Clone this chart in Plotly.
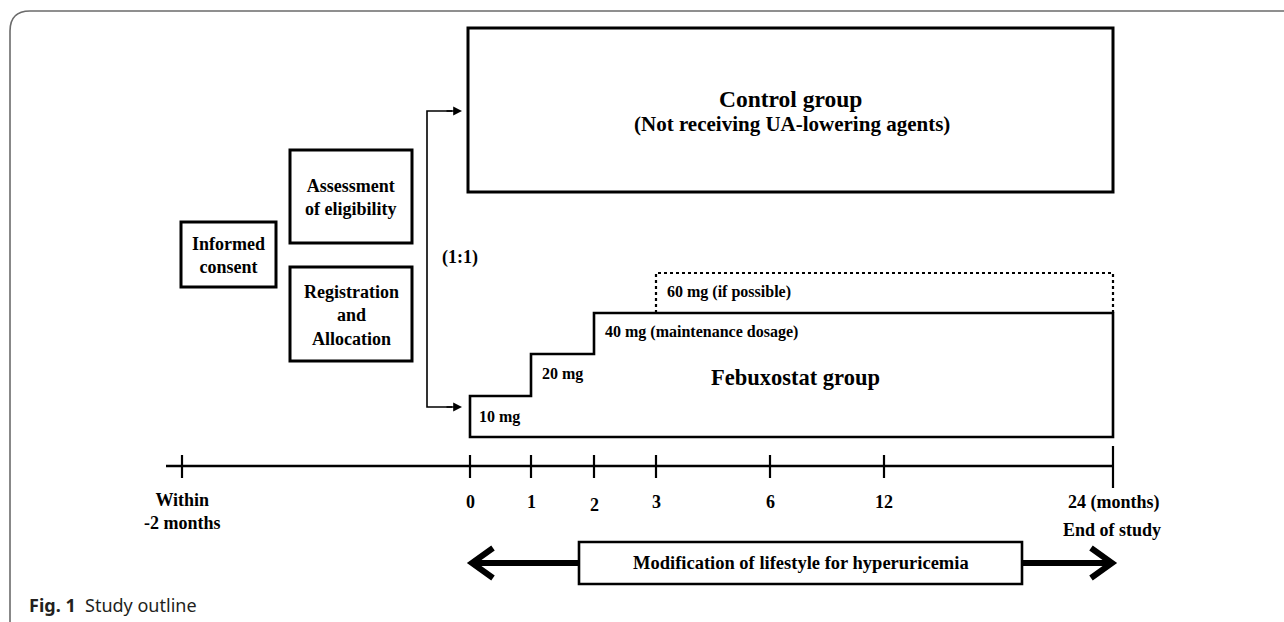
import plotly.graph_objects as go

# ---------------- content ----------------
pre_boxes = ["Informed<br>consent", "Assessment<br>of eligibility", "Registration<br>and<br>Allocation"]
control_title = "Control group"
control_sub = "(Not receiving UA-lowering agents)"
febux_title = "Febuxostat group"
dose_labels = ["10 mg", "20 mg", "40 mg (maintenance dosage)", "60 mg (if possible)"]
ratio_label = "(1:1)"
timeline_labels = ["Within<br>-2 months", "0", "1", "2", "3", "6", "12", "24 (months)"]
end_label = "End of study"
lifestyle_label = "Modification of lifestyle for hyperuricemia"

# ---------------- schematic layout (pixel coordinates) ----------------
W, H = 1284, 622
tick_pos = [182, 470, 531, 594, 656, 770, 884, 1113]
step_y = [396, 354, 313, 273]        # top of each dose step
feb_bottom = 437
line_y = 466

SERIF = "Liberation Serif"
shapes = []
ann = []

def rect(x0, y0, x1, y1, w=3, dash="solid"):
    shapes.append(dict(type="rect", x0=x0, y0=y0, x1=x1, y1=y1, xref="x", yref="y",
                       line=dict(color="black", width=w, dash=dash)))

def path(d, w=2, dash="solid", color="black"):
    shapes.append(dict(type="path", path=d, xref="x", yref="y",
                       line=dict(color=color, width=w, dash=dash)))

def text(x, y, s, size, xanchor="center", bold=True, family=SERIF, color="black"):
    ann.append(dict(x=x, y=y, xref="x", yref="y", text=("<b>%s</b>" % s) if bold else s,
                    showarrow=False, xanchor=xanchor, yanchor="middle",
                    font=dict(family=family, size=size, color=color)))

# outer frame (open at right and bottom)
path("M 10,622 L 10,31 Q 10,11 30,11 L 1284,11", w=1.6, color="#6b6b6b")

# pre-randomisation boxes
rect(181, 222, 276, 287)
text(228.5, 255, pre_boxes[0], 18)
rect(290, 150, 412, 243)
text(351, 197, pre_boxes[1], 18)
rect(290, 267, 412, 361)
text(351, 315, pre_boxes[2], 18)

# randomisation bracket and arrows
path("M 452,111 L 427,111 L 427,407 L 452,407", w=1.6)
for yy in (111, 407):
    ann.append(dict(x=462, y=yy, ax=445, ay=yy, xref="x", yref="y", axref="x", ayref="y",
                    text="", showarrow=True, arrowhead=2, arrowsize=1.1, arrowwidth=1.6,
                    arrowcolor="black"))
text(460, 257, ratio_label, 18)

# control group box
rect(468, 28, 1113, 192)
text(790.5, 99, control_title, 23.5)
text(791.5, 124, control_sub, 21)

# febuxostat staircase
d = ("M %d,%d L %d,%d L %d,%d L %d,%d L %d,%d L %d,%d L %d,%d L %d,%d Z" % (
    tick_pos[1], feb_bottom, tick_pos[1], step_y[0], tick_pos[2], step_y[0],
    tick_pos[2], step_y[1], tick_pos[3], step_y[1], tick_pos[3], step_y[2],
    tick_pos[7], step_y[2], tick_pos[7], feb_bottom))
path(d, w=2.6)
path("M %d,%d L %d,%d L %d,%d L %d,%d" % (tick_pos[4], step_y[2], tick_pos[4], step_y[3],
                                          tick_pos[7], step_y[3], tick_pos[7], step_y[2]),
     w=2.2, dash="dot")
text(tick_pos[1] + 7, 417, dose_labels[0], 16, xanchor="left")
text(tick_pos[2] + 9, 374, dose_labels[1], 16, xanchor="left")
text(tick_pos[3] + 9, 332, dose_labels[2], 16, xanchor="left")
text(tick_pos[4] + 9, 292, dose_labels[3], 16, xanchor="left")
text(795, 377, febux_title, 22.5)

# timeline
path("M 166,%d L %d,%d" % (line_y, tick_pos[7], line_y), w=2.4)
for i, xp in enumerate(tick_pos):
    top, bot = (446, 488) if i == len(tick_pos) - 1 else (455, 478)
    path("M %d,%d L %d,%d" % (xp, top, xp, bot), w=2.2)
for i, (xp, lab) in enumerate(zip(tick_pos, timeline_labels)):
    if i == 0:
        text(xp, 511, lab, 18)
    elif i == len(tick_pos) - 1:
        text(1066, 502, lab, 18, xanchor="left")
    else:
        text(xp, 505 if lab == "2" else 502, lab, 18)
text(1112, 530, end_label, 18)

# lifestyle arrow
path("M 474,563 L 579,563", w=6)
path("M 1022,563 L 1109,563", w=6)
path("M 493,548 L 472,563 L 493,578", w=6)
path("M 1091,548 L 1112,563 L 1091,578", w=6)
rect(579, 542, 1022, 584, w=2.6)
text(800.5, 563, lifestyle_label, 18.5)

# caption
ann.append(dict(x=27, y=605, xref="x", yref="y", showarrow=False, xanchor="left", yanchor="middle",
                text="<b>Fig. 1</b>  Study outline",
                font=dict(family="Noto Sans", size=18, color="#231f20")))

fig = go.Figure()
fig.update_layout(
    width=W, height=H, margin=dict(l=0, r=0, t=0, b=0),
    paper_bgcolor="white", plot_bgcolor="white", showlegend=False,
    xaxis=dict(range=[0, W], visible=False, fixedrange=True),
    yaxis=dict(range=[H, 0], visible=False, fixedrange=True),
    shapes=shapes, annotations=ann,
)
fig.write_html("out.html", config={"displayModeBar": False},
               post_script="document.body.style.margin='0';document.body.style.overflow='hidden';")
